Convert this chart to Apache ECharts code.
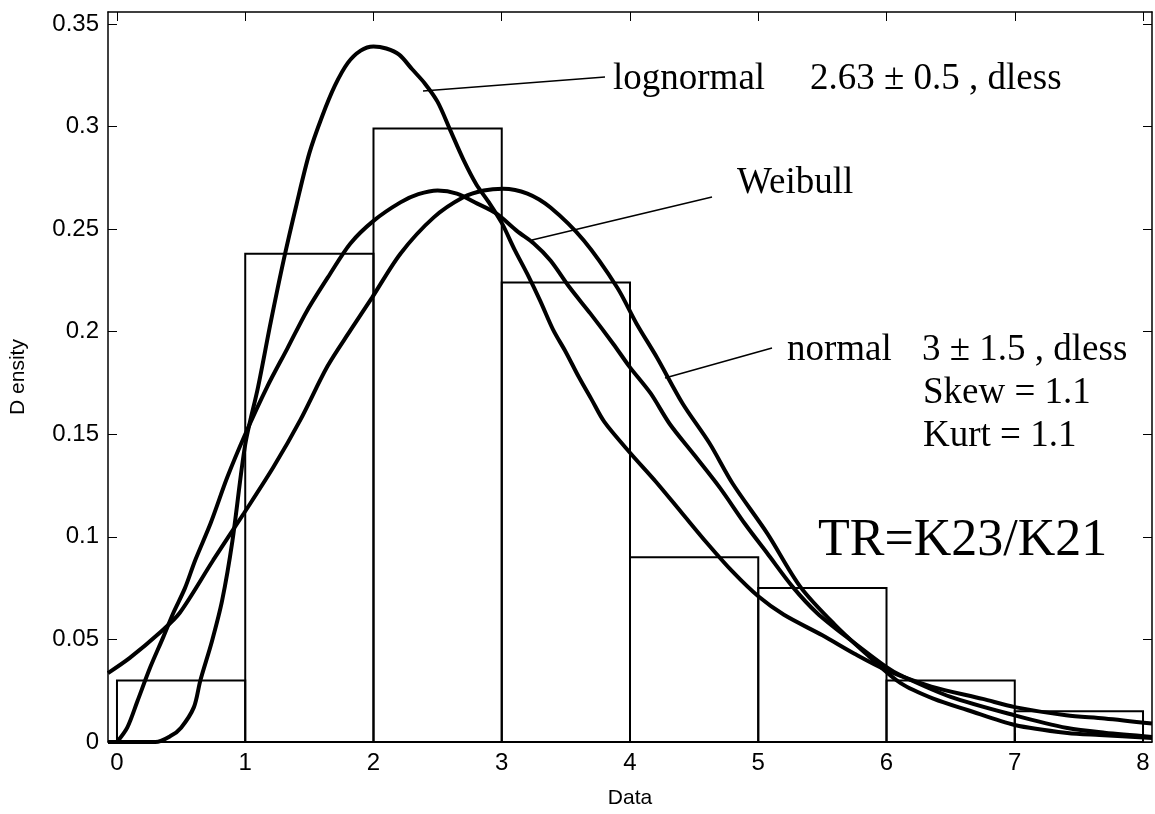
<!DOCTYPE html>
<html>
<head>
<meta charset="utf-8">
<script src="https://cdn.jsdelivr.net/npm/echarts@6/dist/echarts.min.js"></script>
<style>
  html, body { margin: 0; padding: 0; background: #fff; }
  #chart { width: 1155px; height: 814px; }
</style>
</head>
<body>
<div id="chart"></div>
<script>
// ---- data ----
const xTicks = [0, 1, 2, 3, 4, 5, 6, 7, 8];
const yTicks = [0, 0.05, 0.1, 0.15, 0.2, 0.25, 0.3, 0.35];
const binStarts = [0, 1, 2, 3, 4, 5, 6, 7];
const binWidth = 1;
const binHeights = [0.030, 0.238, 0.299, 0.224, 0.090, 0.075, 0.030, 0.015];

const lognormalCurve = [
  [-0.07, 0], [0.1, 0], [0.3, 0], [0.42, 0.003], [0.5, 0.007], [0.6, 0.017], [0.65, 0.03],
  [0.74, 0.049], [0.82, 0.069], [0.9, 0.098], [1.0, 0.145], [1.1, 0.173], [1.2, 0.205],
  [1.3, 0.235], [1.4, 0.262], [1.5, 0.287], [1.6, 0.305], [1.7, 0.320], [1.8, 0.331],
  [1.9, 0.337], [2.0, 0.339], [2.1, 0.338], [2.2, 0.335], [2.3, 0.328], [2.4, 0.321],
  [2.5, 0.312], [2.6, 0.298], [2.7, 0.284], [2.8, 0.272], [2.9, 0.263], [3.0, 0.253],
  [3.1, 0.240], [3.2, 0.228], [3.3, 0.215], [3.4, 0.201], [3.5, 0.190], [3.6, 0.178],
  [3.7, 0.167], [3.8, 0.156], [4.0, 0.141], [4.2, 0.127], [4.4, 0.112], [4.6, 0.097],
  [4.8, 0.083], [5.0, 0.071], [5.2, 0.062], [5.5, 0.052], [5.75, 0.043], [6.0, 0.035],
  [6.35, 0.027], [6.75, 0.021], [7.0, 0.017], [7.4, 0.013], [7.7, 0.0115], [8.07, 0.009]
];

const weibullCurve = [
  [0, 0], [0.08, 0.007], [0.16, 0.02], [0.26, 0.0365], [0.36, 0.051], [0.44, 0.063],
  [0.53, 0.075], [0.61, 0.0886], [0.73, 0.1066], [0.86, 0.129], [1.0, 0.150], [1.17, 0.173],
  [1.33, 0.192], [1.48, 0.210], [1.66, 0.228], [1.82, 0.243], [2.0, 0.254], [2.21, 0.263],
  [2.35, 0.267], [2.5, 0.2688], [2.65, 0.2673], [2.81, 0.2624], [2.96, 0.2575], [3.12, 0.249],
  [3.25, 0.243], [3.38, 0.2347], [3.53, 0.2215], [3.69, 0.2089], [3.87, 0.194], [4.0, 0.1826],
  [4.16, 0.170], [4.31, 0.155], [4.5, 0.140], [4.7, 0.124], [4.9, 0.106], [5.07, 0.092],
  [5.27, 0.0755], [5.46, 0.0628], [5.72, 0.0497], [6.0, 0.0365], [6.11, 0.0325], [6.5, 0.022],
  [7.0, 0.013], [7.41, 0.0068], [7.7, 0.0045], [8.07, 0.0025]
];

const normalCurve = [
  [-0.07, 0.0336], [0.1, 0.041], [0.34, 0.0536], [0.49, 0.063], [0.75, 0.0886], [0.99, 0.1115],
  [1.22, 0.134], [1.43, 0.157], [1.64, 0.183], [1.82, 0.2006], [1.99, 0.2167], [2.21, 0.238],
  [2.47, 0.2557], [2.70, 0.2655], [2.86, 0.2688], [3.01, 0.2697], [3.2, 0.2673], [3.38, 0.2605],
  [3.64, 0.2444], [3.90, 0.2215], [4.05, 0.204], [4.21, 0.1874], [4.41, 0.165], [4.62, 0.1456],
  [4.80, 0.126], [5.07, 0.1017], [5.33, 0.0755], [5.6, 0.057], [5.85, 0.0425], [6.11, 0.0287],
  [6.37, 0.021], [6.63, 0.0156], [7.0, 0.0083], [7.41, 0.0044], [7.66, 0.0034], [8.07, 0.002]
];

// ---- chart ----
const chart = echarts.init(document.getElementById('chart'), null, { renderer: 'canvas' });
const sans = 'Liberation Sans, Arial, sans-serif';
const serif = 'Liberation Serif, Times New Roman, serif';
const axisLineStyle = { color: '#000', width: 1.5 };

function xAxisDef(pos, showLabel) {
  return {
    type: 'value', position: pos, min: -0.07, max: 8.07,
    axisLine: { show: true, onZero: false, lineStyle: axisLineStyle },
    axisTick: { show: true, inside: true, length: 9, customValues: xTicks, lineStyle: { color: '#000', width: 1 } },
    axisLabel: { show: showLabel, customValues: xTicks, color: '#000', fontSize: 24, fontFamily: sans, margin: 9 },
    splitLine: { show: false },
    name: showLabel ? 'Data' : '', nameLocation: 'middle', nameGap: 46,
    nameTextStyle: { color: '#000', fontSize: 21, fontFamily: sans }
  };
}
function yAxisDef(pos, showLabel) {
  return {
    type: 'value', position: pos, min: 0, max: 0.3558,
    axisLine: { show: true, onZero: false, lineStyle: axisLineStyle },
    axisTick: { show: true, inside: true, length: 9, customValues: yTicks, lineStyle: { color: '#000', width: 1 } },
    axisLabel: { show: showLabel, customValues: yTicks, color: '#000', fontSize: 24, fontFamily: sans, margin: 9 },
    splitLine: { show: false },
    name: showLabel ? 'D ensity' : '', nameLocation: 'middle', nameGap: 79,
    nameTextStyle: { color: '#000', fontSize: 21, fontFamily: sans }
  };
}

const curveStyle = { color: '#000', width: 4 };
function curve(name, data) {
  return {
    name: name, type: 'line', data: data, showSymbol: false, smooth: 0.3,
    lineStyle: curveStyle, itemStyle: { color: '#000' }, z: 3, clip: true
  };
}

function txt(x, y, s, size) {
  return { type: 'text', x: x, y: y, z: 10,
    style: { text: s, fill: '#000', font: size + 'px ' + serif, align: 'left', verticalAlign: 'top' } };
}
function seg(x1, y1, x2, y2) {
  return { type: 'line', z: 10, shape: { x1: x1, y1: y1, x2: x2, y2: y2 }, style: { stroke: '#000', lineWidth: 1.6 } };
}

chart.setOption({
  animation: false,
  backgroundColor: '#fff',
  grid: { left: 107, right: 3, top: 12, bottom: 72, containLabel: false },
  xAxis: [xAxisDef('bottom', true), xAxisDef('top', false)],
  yAxis: [yAxisDef('left', true), yAxisDef('right', false)],
  series: [
    {
      type: 'custom', name: 'histogram', z: 2,
      data: binStarts.map((s, i) => [s, s + binWidth, binHeights[i]]),
      encode: { x: [0, 1], y: 2 },
      renderItem: function (params, api) {
        const p0 = api.coord([api.value(0), 0]);
        const p1 = api.coord([api.value(1), api.value(2)]);
        return {
          type: 'rect',
          shape: { x: p0[0], y: p1[1], width: p1[0] - p0[0], height: p0[1] - p1[1] },
          style: { fill: 'none', stroke: '#000', lineWidth: 2 }
        };
      }
    },
    curve('lognormal', lognormalCurve),
    curve('Weibull', weibullCurve),
    curve('normal', normalCurve)
  ],
  graphic: [
    seg(423, 91, 605, 77),
    seg(532, 240, 712, 197),
    seg(665, 378, 772, 348),
    txt(613, 61, 'lognormal', 37),
    txt(810, 61, '2.63 \u00b1 0.5 , dless', 37),
    txt(737, 165, 'Weibull', 37),
    txt(787, 332, 'normal', 37),
    txt(922, 332, '3 \u00b1 1.5 , dless', 37),
    txt(923, 375, 'Skew = 1.1', 37),
    txt(923, 418, 'Kurt = 1.1', 37),
    txt(818, 515, 'TR=K23/K21', 52)
  ]
});
</script>
</body>
</html>
